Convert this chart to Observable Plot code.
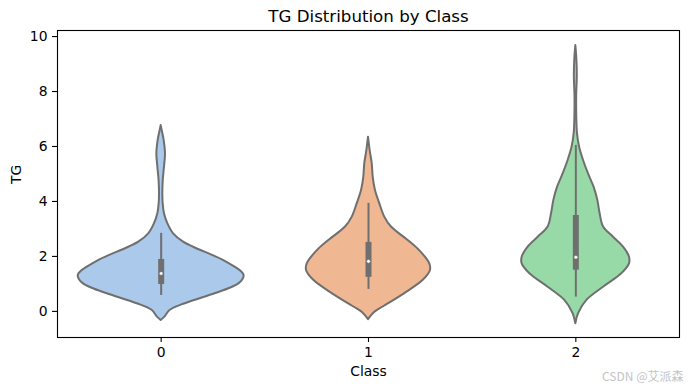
<!DOCTYPE html>
<html><head><meta charset="utf-8">
<script src="https://cdn.jsdelivr.net/npm/d3@7"></script>
<script src="https://cdn.jsdelivr.net/npm/@observablehq/plot@0.6"></script>
<style>
body{margin:0;background:#fff}
svg{font-family:"DejaVu Sans",sans-serif}
</style>
</head><body><div id="chart"></div>
<script>
// categories and styling palette
const classes = [0, 1, 2];
const classLabels = ["0", "1", "2"];
const classColors = ["#abc9ea", "#efb792", "#98daa7"];
const yTicks = [0, 2, 4, 6, 8, 10];

// violin outlines: TG level and relative density (max = 1)
const tg0   = [-0.33,-0.21,0.04,0.28,0.64,0.85,1.01,1.15,1.31,1.45,1.61,1.85,2.04,2.28,2.52,2.82,3.19,3.55,3.92,4.28,4.76,5.25,5.73,6.22,6.5,6.76];
const dens0 = [0,0.045,0.11,0.29,0.65,0.84,0.94,0.985,1.0,0.965,0.89,0.755,0.62,0.43,0.27,0.15,0.08,0.04,0.024,0.02,0.025,0.04,0.052,0.036,0.018,0];
const tg1   = [-0.3,-0.05,0.16,0.64,1.13,1.49,1.73,2.22,2.58,3.07,3.43,3.92,4.4,4.88,5.37,5.85,6.34];
const dens1 = [0,0.07,0.177,0.434,0.66,0.747,0.739,0.614,0.478,0.277,0.196,0.136,0.084,0.057,0.045,0.02,0];
const tg2   = [-0.45,-0.08,0.4,0.88,1.37,1.73,1.97,2.34,2.7,3.07,3.55,4.04,4.52,5.0,5.49,5.98,6.47,7.0,7.8,8.6,9.2,9.67];
const dens2 = [0,0.033,0.133,0.334,0.554,0.647,0.647,0.575,0.454,0.334,0.293,0.265,0.22,0.153,0.093,0.045,0.02,0.012,0.01,0.018,0.012,0];

// inner box plots
const whiskerLow  = [0.58, 0.80, 0.52];
const whiskerHigh = [2.84, 3.93, 6.04];
const boxLow      = [0.98, 1.24, 1.50];
const boxHigh     = [1.89, 2.51, 3.49];
const medians     = [1.38, 1.82, 1.97];

const gray = "#6f6f6f";
const halfWidth = 0.4;
const levels = [tg0, tg1, tg2];
const dens = [dens0, dens1, dens2];

const violinRows = classes.flatMap((c, k) =>
  levels[k].map((y, i) => ({cls: c, y, x1: c - dens[k][i] * halfWidth, x2: c + dens[k][i] * halfWidth}))
);
const boxRows = classes.map((c, k) => ({
  cls: c, wlo: whiskerLow[k], whi: whiskerHigh[k], q1: boxLow[k], q3: boxHigh[k], med: medians[k]
}));

const chart = Plot.plot({
  width: 690,
  height: 390,
  marginLeft: 57,
  marginRight: 11,
  marginTop: 30,
  marginBottom: 53,
  style: {fontFamily: "DejaVu Sans, sans-serif", background: "white"},
  x: {domain: [-0.5, 2.5]},
  y: {domain: [-0.95, 10.22]},
  color: {type: "ordinal", domain: classes, range: classColors},
  marks: [
    Plot.areaX(violinRows, {y: "y", x1: "x1", x2: "x2", z: "cls", fill: "cls", stroke: gray, strokeWidth: 2, curve: "catmull-rom"}),
    Plot.ruleX(boxRows, {x: "cls", y1: "wlo", y2: "whi", stroke: gray, strokeWidth: 2}),
    Plot.ruleX(boxRows, {x: "cls", y1: "q1", y2: "q3", stroke: gray, strokeWidth: 6}),
    Plot.dot(boxRows, {x: "cls", y: "med", r: 1.8, fill: "white", stroke: gray, strokeWidth: 0.4}),
    Plot.frame({stroke: "black", strokeWidth: 1.1}),
    Plot.axisY({ticks: yTicks, tickSize: 5, tickPadding: 5, fontSize: 13.9, label: null, strokeWidth: 1.1}),
    Plot.axisX({ticks: classes, tickFormat: (d) => classLabels[classes.indexOf(d)], tickSize: 5, tickPadding: 5, fontSize: 13.9, label: null, strokeWidth: 1.1}),
    Plot.text(["TG Distribution by Class"], {frameAnchor: "top", dy: -8.3, lineAnchor: "bottom", fontSize: 16.67, fill: "black"}),
    Plot.text(["Class"], {frameAnchor: "bottom", dy: 38.5, lineAnchor: "bottom", fontSize: 13.9, fill: "black"}),
    Plot.text(["TG"], {frameAnchor: "left", dx: -37, rotate: -90, lineAnchor: "bottom", fontSize: 13.9, fill: "black"}),
    Plot.text(["CSDN @艾派森"], {frameAnchor: "bottom-right", dx: 4, dy: 43, textAnchor: "end", lineAnchor: "bottom", fontSize: 12, fill: "#c4c4c4", fontFamily: "Noto Sans CJK SC, DejaVu Sans, sans-serif"})
  ]
});
document.getElementById("chart").appendChild(chart);
</script>
</body></html>
